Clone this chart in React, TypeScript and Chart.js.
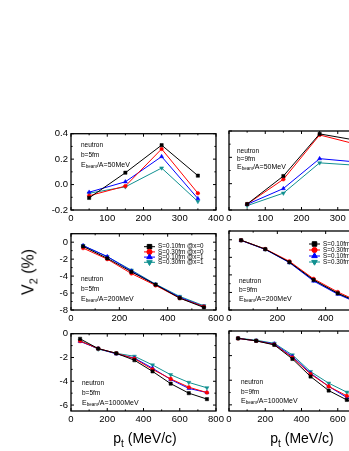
import React, { useEffect, useRef } from 'react';
import { Chart, registerables } from 'chart.js';
import { drawPoint } from 'chart.js/helpers';

Chart.register(...registerables);

// ---------- data ----------
const seriesLabels = ['S=0.10fm @x=0', 'S=0.30fm @x=0', 'S=0.10fm @x=1', 'S=0.30fm @x=1'];
const seriesColors = ['#000000', '#ff0000', '#0000ff', '#109090'];
const seriesShapes = ['rect', 'circle', 'triangle', 'triangle'];
const seriesRotations = [0, 0, 0, 180];

const pt50 = [50, 150, 250, 350];
const pt200 = [50, 150, 250, 350, 450, 550];
const pt1000 = [50, 150, 250, 350, 450, 550, 650, 750];

const v2B5E50 = [
  [-0.105, 0.093, 0.31, 0.07],
  [-0.088, -0.012, 0.28, -0.068],
  [-0.06, 0.022, 0.22, -0.11],
  [-0.068, -0.018, 0.13, -0.133],
];
const v2B9E50 = [
  [-0.155, 0.058, 0.378, 0.33],
  [-0.155, 0.033, 0.37, 0.3],
  [-0.157, -0.037, 0.19, 0.165],
  [-0.167, -0.072, 0.158, 0.14],
];
const v2B5E200 = [
  [-0.5, -1.9, -3.5, -5.0, -6.6, -7.7],
  [-0.7, -2.0, -3.7, -5.1, -6.6, -7.6],
  [-0.4, -1.7, -3.4, -5.0, -6.5, -7.6],
  [-0.4, -1.7, -3.3, -4.95, -6.4, -7.5],
];
const v2B9E200 = [
  [-0.05, -1.07, -2.55, -4.57, -6.1, -7.3],
  [-0.05, -1.05, -2.45, -4.45, -5.95, -7.2],
  [-0.08, -1.1, -2.6, -4.7, -6.2, -7.4],
  [-0.05, -1.07, -2.55, -4.6, -6.1, -7.3],
];
const v2B5E1000 = [
  [-0.43, -1.25, -1.65, -2.23, -3.17, -4.2, -5.0, -5.5],
  [-0.62, -1.25, -1.65, -2.1, -3.0, -3.8, -4.5, -4.95],
  [-0.65, -1.25, -1.7, -2.05, -2.9, -3.85, -4.6, -4.95],
  [-0.57, -1.3, -1.65, -1.9, -2.63, -3.45, -4.1, -4.55],
];
const v2B9E1000 = [
  [-0.6, -0.8, -1.13, -2.27, -3.7, -4.84, -5.6, -6.2],
  [-0.6, -0.8, -1.1, -2.16, -3.5, -4.5, -5.27, -5.9],
  [-0.6, -0.8, -1.05, -2.08, -3.43, -4.5, -5.4, -6.0],
  [-0.58, -0.75, -1.0, -1.95, -3.3, -4.24, -4.97, -5.6],
];

const xTicks400 = [0, 100, 200, 300, 400];
const xTicks600 = [0, 200, 400, 600];
const xTicks800 = [0, 200, 400, 600, 800];
const yTicksTop = [-0.2, 0, 0.2, 0.4];
const yTicksMid = [-8, -6, -4, -2, 0];
const yTicksBot = [-6, -4, -2, 0];

const FONT = 'Arial, "Liberation Sans", sans-serif';
const PADL = 35;
const PADT = 6;
const PADR = 12;
const PADB = 18;

type PanelProps = {
  left: number; top: number; w: number; h: number;
  xMax: number; xTicks: number[];
  yMin: number; yMax: number; yTicks: number[]; yDigits: number; showY: boolean;
  xs: number[]; series: number[][];
  b: string; energy: string; notes: { dx: number; dy: number[] };
  legend?: { dx: number; dy: number; gap: number } | null;
};

function markerRadius(shape: string, big: boolean) {
  if (shape === 'circle') return big ? 2.6 : 1.8;
  return big ? 3.2 : 2.3;
}

function makeDecor(p: PanelProps) {
  return {
    id: 'decor',
    afterDatasetsDraw(chart: any) {
      const ctx = chart.ctx as CanvasRenderingContext2D;
      const { left, right, top, bottom } = chart.chartArea;
      const xs = chart.scales.x;
      const ys = chart.scales.y;
      ctx.save();
      ctx.strokeStyle = '#000';
      ctx.lineWidth = 1;
      ctx.beginPath();
      const xStep = p.xTicks[1] - p.xTicks[0];
      const yStep = p.yTicks[1] - p.yTicks[0];
      const xv = (v: number, len: number) => {
        const px = xs.getPixelForValue(v);
        ctx.moveTo(px, bottom); ctx.lineTo(px, bottom - len);
        ctx.moveTo(px, top); ctx.lineTo(px, top + len);
      };
      const yv = (v: number, len: number) => {
        const py = ys.getPixelForValue(v);
        ctx.moveTo(left, py); ctx.lineTo(left + len, py);
        ctx.moveTo(right, py); ctx.lineTo(right - len, py);
      };
      p.xTicks.forEach((v) => {
        xv(v, 3);
        if (v + xStep / 2 <= p.xMax) xv(v + xStep / 2, 1.6);
      });
      p.yTicks.forEach((v, i) => {
        yv(v, 3);
        if (v + yStep / 2 <= p.yMax + 1e-9) yv(v + yStep / 2, 1.6);
        if (i === 0 && v - yStep / 2 >= p.yMin - 1e-9) yv(v - yStep / 2, 1.6);
      });
      ctx.stroke();
      ctx.lineWidth = 1.3;
      ctx.strokeRect(left, top, right - left, bottom - top);

      // notes
      ctx.fillStyle = '#000';
      ctx.textBaseline = 'middle';
      ctx.textAlign = 'left';
      const nx = left + p.notes.dx;
      ctx.font = `6.5px ${FONT}`;
      ctx.fillText('neutron', nx, top + p.notes.dy[0]);
      ctx.fillText(p.b, nx, top + p.notes.dy[1]);
      const ey = top + p.notes.dy[2];
      ctx.font = `7px ${FONT}`;
      ctx.fillText('E', nx, ey);
      let cx = nx + ctx.measureText('E').width;
      ctx.font = `4.5px ${FONT}`;
      ctx.fillText('beam', cx, ey + 2);
      cx += ctx.measureText('beam').width;
      ctx.font = `7px ${FONT}`;
      ctx.fillText(p.energy, cx, ey);

      // legend
      if (p.legend) {
        const lg = p.legend;
        seriesLabels.forEach((lab, i) => {
          const y = top + lg.dy + i * lg.gap;
          const x0 = left + lg.dx;
          ctx.strokeStyle = seriesColors[i];
          ctx.fillStyle = seriesColors[i];
          ctx.lineWidth = 1;
          ctx.beginPath();
          ctx.moveTo(x0, y); ctx.lineTo(x0 + 11, y);
          ctx.stroke();
          drawPoint(ctx, {
            pointStyle: seriesShapes[i] as any,
            rotation: seriesRotations[i],
            radius: markerRadius(seriesShapes[i], true),
            borderWidth: 0.5,
          } as any, x0 + 5.5, y);
          ctx.fillStyle = '#000';
          ctx.font = `6.3px ${FONT}`;
          ctx.fillText(lab, x0 + 14, y);
        });
      }
      ctx.restore();
    },
  };
}

function Panel(p: PanelProps) {
  const ref = useRef<HTMLCanvasElement>(null);
  const W = p.w + PADL + PADR;
  const H = p.h + PADT + PADB;
  useEffect(() => {
    if (!ref.current) return;
    const chart = new Chart(ref.current, {
      type: 'line',
      data: {
        datasets: p.series.map((vals, i) => ({
          label: seriesLabels[i],
          data: p.xs.map((x, j) => ({ x, y: vals[j] })),
          borderColor: seriesColors[i],
          backgroundColor: seriesColors[i],
          borderWidth: 1,
          pointStyle: seriesShapes[i] as any,
          pointRotation: seriesRotations[i],
          pointRadius: markerRadius(seriesShapes[i], false),
          pointBorderWidth: 0.5,
          tension: 0,
        })),
      },
      options: {
        animation: false,
        responsive: false,
        devicePixelRatio: 1,
        layout: { padding: { left: 0, top: PADT, right: PADR, bottom: 0 } },
        plugins: { legend: { display: false }, tooltip: { enabled: false } },
        scales: {
          x: {
            type: 'linear',
            min: 0,
            max: p.xMax,
            grid: { display: false, drawTicks: false },
            border: { display: false },
            ticks: {
              font: { family: FONT, size: 9.5 },
              color: '#000',
              padding: 3,
              maxRotation: 0,
              callback: (v: any) => String(v),
            },
            afterBuildTicks: (s: any) => { s.ticks = p.xTicks.map((v) => ({ value: v })); },
            afterFit: (s: any) => { s.height = PADB; },
          },
          y: {
            type: 'linear',
            min: p.yMin,
            max: p.yMax,
            grid: { display: false, drawTicks: false },
            border: { display: false },
            ticks: {
              display: p.showY,
              font: { family: FONT, size: 9.5 },
              color: '#000',
              padding: 3,
              callback: (v: any) => Number(v).toFixed(p.yDigits),
            },
            afterBuildTicks: (s: any) => { s.ticks = p.yTicks.map((v) => ({ value: v })); },
            afterFit: (s: any) => { s.width = PADL; },
          },
        },
      },
      plugins: [makeDecor(p)],
    } as any);
    return () => chart.destroy();
  }, []);
  return (
    <canvas
      ref={ref}
      width={W}
      height={H}
      style={{ position: 'absolute', left: p.left - PADL, top: p.top - PADT, width: W, height: H }}
    />
  );
}

export default function App() {
  const LX = 71, RX = 229, PW = 145;
  return (
    <div style={{ position: 'fixed', left: 0, top: 0, width: 349, height: 451, background: '#fff', overflow: 'hidden', fontFamily: FONT }}>
      <Panel left={LX} top={131} w={PW} h={79} xMax={400} xTicks={xTicks400} yMin={-0.2} yMax={0.4} yTicks={yTicksTop} yDigits={1} showY
        xs={pt50} series={v2B5E50} b="b=5fm" energy="/A=50MeV" notes={{ dx: 10, dy: [12, 22, 31] }} />
      <Panel left={RX} top={131} w={PW} h={79} xMax={400} xTicks={xTicks400} yMin={-0.2} yMax={0.4} yTicks={yTicksTop} yDigits={1} showY={false}
        xs={pt50} series={v2B9E50} b="b=9fm" energy="/A=50MeV" notes={{ dx: 8, dy: [20, 28, 36] }} />
      <Panel left={LX} top={231} w={PW} h={79} xMax={600} xTicks={xTicks600} yMin={-8} yMax={1} yTicks={yTicksMid} yDigits={0} showY
        xs={pt200} series={v2B5E200} b="b=5fm" energy="/A=200MeV" notes={{ dx: 10, dy: [46, 56, 65] }}
        legend={{ dx: 73, dy: 13, gap: 5.2 }} />
      <Panel left={RX} top={231} w={PW} h={79} xMax={600} xTicks={xTicks600} yMin={-8} yMax={1} yTicks={yTicksMid} yDigits={0} showY={false}
        xs={pt200} series={v2B9E200} b="b=9fm" energy="/A=200MeV" notes={{ dx: 10, dy: [50, 59, 68] }}
        legend={{ dx: 80, dy: 13, gap: 6 }} />
      <Panel left={LX} top={331} w={PW} h={80} xMax={800} xTicks={xTicks800} yMin={-6.5} yMax={0} yTicks={yTicksBot} yDigits={0} showY
        xs={pt1000} series={v2B5E1000} b="b=5fm" energy="/A=1000MeV" notes={{ dx: 11, dy: [50, 60, 69] }} />
      <Panel left={RX} top={331} w={PW} h={80} xMax={800} xTicks={xTicks800} yMin={-6.5} yMax={0} yTicks={yTicksBot} yDigits={0} showY={false}
        xs={pt1000} series={v2B9E1000} b="b=9fm" energy="/A=1000MeV" notes={{ dx: 12, dy: [51, 61, 70] }} />

      <div style={{ position: 'absolute', left: 30, top: 272, transform: 'translate(-50%, -50%) rotate(-90deg)', fontSize: 16, whiteSpace: 'nowrap', lineHeight: 1 }}>
        V<sub style={{ fontSize: 11 }}>2</sub> (%)
      </div>
      <div style={{ position: 'absolute', left: 145, top: 440, transform: 'translate(-50%, -50%)', fontSize: 14, whiteSpace: 'nowrap', lineHeight: 1 }}>
        p<sub style={{ fontSize: 10 }}>t</sub> (MeV/c)
      </div>
      <div style={{ position: 'absolute', left: 302, top: 440, transform: 'translate(-50%, -50%)', fontSize: 14, whiteSpace: 'nowrap', lineHeight: 1 }}>
        p<sub style={{ fontSize: 10 }}>t</sub> (MeV/c)
      </div>
    </div>
  );
}
